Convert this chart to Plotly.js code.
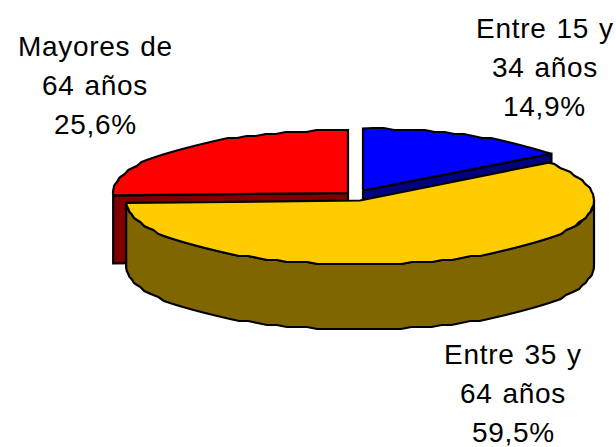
<!DOCTYPE html>
<html><head><meta charset="utf-8">
<script src="https://cdn.plot.ly/plotly-3.0.1.min.js"></script>
<style>html,body{margin:0;padding:0;background:#fff}#c{width:616px;height:447px}
.annotation-text{letter-spacing:0.7px;word-spacing:1.5px}</style>
</head><body><div id="c"></div>
<script>
const categories = ['Entre 15 y 34 años','Entre 35 y 64 años','Mayores de 64 años'];
const values = [14.9, 59.5, 25.6];
const labelLines = [['Entre 15 y','34 años'],['Entre 35 y','64 años'],['Mayores de','64 años']];
const topColors = ['#0000FF','#FFCC00','#FF0000'];
const sideColors = ['#000080','#806600','#800000'];
const centers = [[363,190.5],[360,200.5],[348,193]];
const radii = [[234,62],[234,64],[235,63]];
const depths = [66,65,68];
const labelPos = [[544.5,28],[513,354],[95,46]];
const LINE_GAP = 39;
const OUTLINE_STEP = 2;

const total = values.reduce((a,b)=>a+b,0);
let acc = 0;
const slices = values.map(v=>{const s=acc/total*2*Math.PI; acc+=v; return {s,e:acc/total*2*Math.PI};});
function pt(i,a){return [centers[i][0]+radii[i][0]*Math.sin(a), centers[i][1]-radii[i][1]*Math.cos(a)];}
function snap(p){return [p[0],Math.round(p[1]/OUTLINE_STEP)*OUTLINE_STEP];}
function arc(i,a0,a1){const n=Math.max(2,Math.round(Math.abs(a1-a0)/(Math.PI/70)));const r=[];for(let k=0;k<=n;k++){const q=pt(i,a0+(a1-a0)*k/n);r.push(k===0||k===n?q:snap(q));}return r;}
function poly(points,color){return {type:'scatter',mode:'lines',x:points.map(p=>p[0]),y:points.map(p=>p[1]),fill:'toself',fillcolor:color,line:{color:'#000',width:2.2,simplify:false},hoverinfo:'skip',showlegend:false};}
function topFace(i){const c=centers[i];return poly([c,...arc(i,slices[i].s,slices[i].e),c],topColors[i]);}
function cutFace(i,a){const c=centers[i],p=pt(i,a),d=depths[i];return poly([c,p,[p[0],p[1]+d],[c[0],c[1]+d],c],sideColors[i]);}
function rim(i,a0,a1){const d=depths[i];const up=arc(i,a0,a1);const dn=up.slice().reverse().map(p=>[p[0],p[1]+d]);return poly([...up,...dn,up[0]],sideColors[i]);}

const traces = [
  cutFace(0,slices[0].e), topFace(0),
  cutFace(2,slices[2].s), topFace(2),
  rim(1,Math.PI/2,slices[1].e), topFace(1)
];
const annotations = [];
labelLines.forEach((lines,i)=>{
  const all = lines.concat([values[i].toFixed(1).replace('.',',')+'%']);
  all.forEach((t,k)=>annotations.push({x:labelPos[i][0],y:labelPos[i][1]+k*LINE_GAP,xref:'x',yref:'y',text:t,showarrow:false,xanchor:'center',yanchor:'middle',font:{family:'Liberation Sans, Arial, sans-serif',size:28,color:'#000'}}));
});
Plotly.newPlot('c',traces,{
  width:616,height:447,margin:{l:0,r:0,t:0,b:0},paper_bgcolor:'#fff',plot_bgcolor:'#fff',showlegend:false,
  xaxis:{range:[0,616],visible:false,fixedrange:true},
  yaxis:{range:[447,0],visible:false,fixedrange:true},
  annotations
},{displayModeBar:false,staticPlot:true});
</script></body></html>
